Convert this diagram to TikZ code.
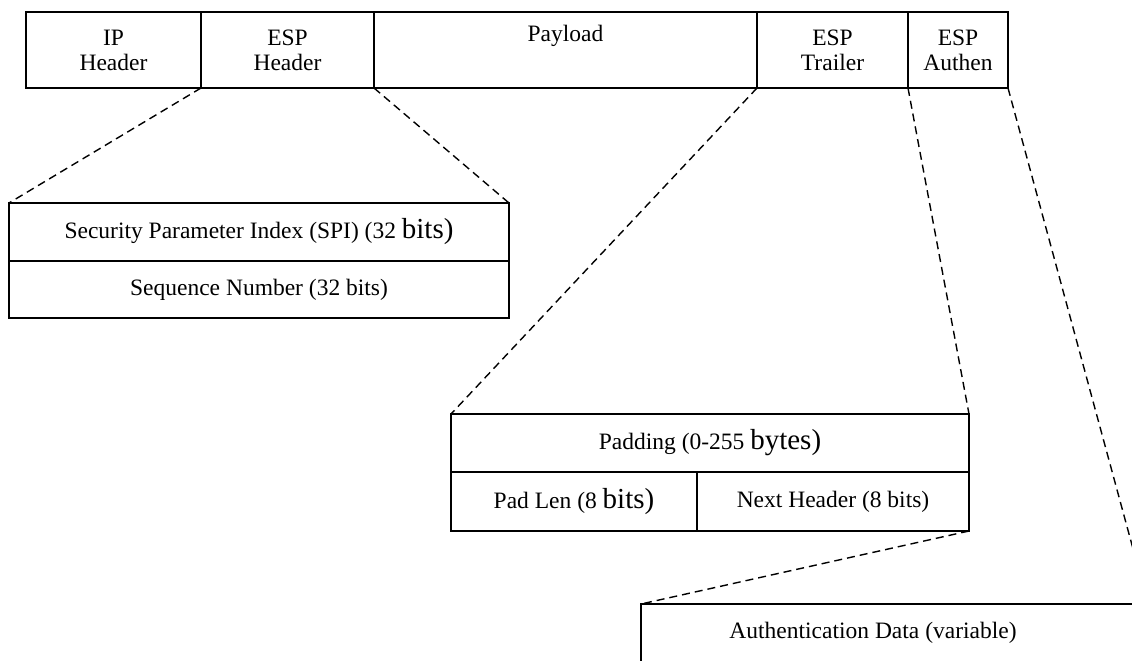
\documentclass[tikz,border=0pt]{standalone}
\usepackage{fontspec}
\setmainfont{Liberation Serif}
\newcommand\bigword[1]{{\fontsize{29}{25}\selectfont #1}}
\begin{document}
\begin{tikzpicture}[x=1pt,y=-1pt,
  field/.style={draw, line width=1.5pt, inner sep=0pt, outer sep=0pt,
    align=center, font=\fontsize{23.5}{25}\selectfont},
  plain/.style={inner sep=0pt, font=\fontsize{23.5}{25}\selectfont},
  link/.style={line width=1.4pt, dash pattern=on 8pt off 5pt}]
\useasboundingbox (0,0) rectangle (1132,661);
\begin{scope}
\clip (0,0) rectangle (1132,661);
% packet layout
\node[field, minimum width=175, minimum height=76] (ip)   at (113.5,50) {IP\\Header};
\node[field, minimum width=173, minimum height=76] (esph) at (287.5,50) {ESP\\Header};
\node[field, minimum width=383, minimum height=76] (pay)  at (565.5,50) {Payload\\\strut};
\node[field, minimum width=151, minimum height=76] (trl)  at (832.5,50) {ESP\\Trailer};
\node[field, minimum width=100, minimum height=76] (aut)  at (958,50)   {ESP\\Authen};
% ESP header fields
\node[field, minimum width=500, minimum height=58] (spi) at (259,232)   {Security Parameter Index (SPI) (32 \bigword{bits)}};
\node[field, minimum width=500, minimum height=57] (seq) at (259,289.5) {Sequence Number (32 bits)};
% ESP trailer fields
\node[field, minimum width=518, minimum height=58] (pad)  at (710,443)   {Padding (0-255 \bigword{bytes)}};
\node[field, minimum width=246, minimum height=59] (plen) at (574,501.5) {Pad Len (8 \bigword{bits)}};
\node[field, minimum width=272, minimum height=59] (nxt)  at (833,501.5) {Next Header (8 bits)};
% authentication data
\node[field, minimum width=507, minimum height=58] (adat) at (894.5,633) {};
\node[plain] (adtxt) at (873,633) {Authentication Data (variable)};
% expansion lines
\draw[link] (esph.south west) -- (spi.north west);
\draw[link] (esph.south east) -- (spi.north east);
\draw[link] (trl.south west) -- (pad.north west);
\draw[link] (trl.south east) -- (pad.north east);
\draw[link] (nxt.south east) -- (adat.north west);
\draw[link] (aut.south east) -- (adat.north east);
\end{scope}
\end{tikzpicture}
\end{document}
